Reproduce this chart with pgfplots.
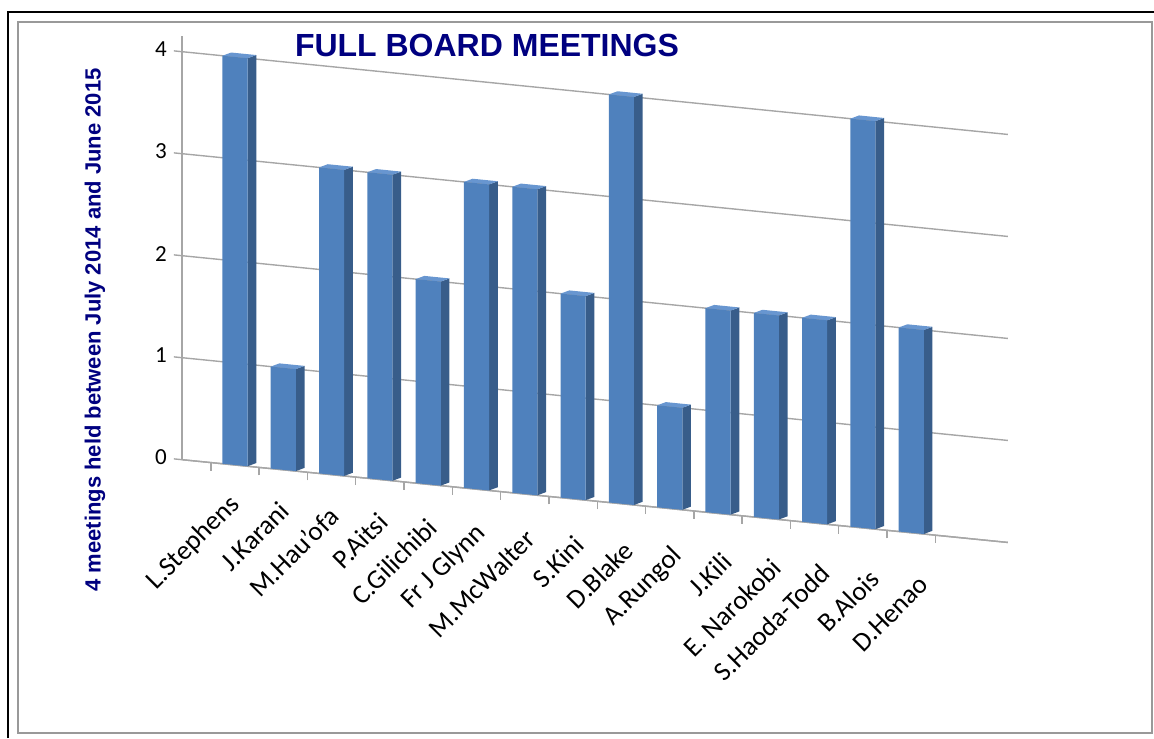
\documentclass[border=0pt]{standalone}
\usepackage{pgfplots}
\pgfplotsset{compat=1.18}
\usepackage{pgfplotstable}
\usepackage{fontspec}
\setmainfont{Carlito}
\newfontfamily\arial{Liberation Sans}
\definecolor{barfront}{RGB}{79,129,189}
\definecolor{barside}{RGB}{56,93,138}
\definecolor{bartop}{RGB}{104,150,208}
\definecolor{navy}{RGB}{0,0,128}
\definecolor{gridc}{RGB}{166,166,166}
\pgfplotstableread{
x y
0 4
1 1
2 3
3 3
4 2
5 3
6 3
7 2
8 4
9 1
10 2
11 2
12 2
13 4
14 2
}\datatable
\begin{document}
\begin{tikzpicture}
\path[use as bounding box] (0,0) rectangle (577pt,369pt);
\draw[line width=1pt] (4pt,0) -- (4pt,363pt) -- (577pt,363pt);
\draw[gray!80, line width=0.8pt] (9pt,2.5pt) rectangle (576pt,358pt);
\node[font=\arial\bfseries\fontsize{16}{19}\selectfont, text=navy] at (243.5pt,346.5pt) {FULL BOARD MEETINGS};
\node[rotate=90, font=\arial\bfseries\fontsize{11}{13}\selectfont, text=navy] at (47.5pt,204pt) {4 meetings held between July 2014 and June 2015};
\begin{axis}[
  at={(117.5pt,136.5pt)}, anchor=origin,
  x={(24.15pt,-2.42pt)}, y={(0pt,51pt)},
  xmin=-1.1, xmax=16, ymin=0, ymax=4.15,
  clip=false,
  axis x line*=bottom, axis y line*=left,
  axis line style={gridc, line width=0.7pt},
  ymajorgrids, grid style={gridc, line width=0.7pt},
  ytick={0,...,4},
  xtick={0,...,14},
  xticklabels={L.Stephens,J.Karani,M.Hau'ofa,P.Aitsi,C.Gilichibi,Fr J Glynn,M.McWalter,S.Kini,D.Blake,A.Rungol,J.Kili,E. Narokobi,S.Haoda-Todd,B.Alois,D.Henao},
  minor xtick={-0.5,0.5,...,14.5},
  major x tick style={draw=none},
  minor x tick style={draw=gridc, line width=0.7pt},
  ytick style={draw=gridc, line width=0.7pt},
  tick align=outside,
  major tick length=4pt, minor tick length=4pt,
  /pgf/number format/assume math mode=true,
  yticklabel style={font=\fontsize{11.5}{13}\selectfont, text=black},
  xticklabel style={rotate=45, anchor=east, xshift=-6pt, yshift={-10pt-0.6pt*\ticknum}, font=\fontsize{13.5}{15}\selectfont, text=black},
]
\pgfplotsinvokeforeach{0,...,14}{
  \pgfplotstablegetelem{#1}{y}\of\datatable
  \let\bv\pgfplotsretval
  \pgfmathsetmacro\xa{#1-0.26}
  \pgfmathsetmacro\xb{#1+0.26}
  \pgfmathsetmacro\xc{#1+0.44}
  \pgfmathsetmacro\xd{#1-0.08}
  \pgfmathsetmacro\vt{\bv+0.04}
  \edef\cmd{%
    \noexpand\addplot[fill=barside, draw=none] coordinates {(\xb,0) (\xc,0.04) (\xc,\vt) (\xb,\bv)};
    \noexpand\addplot[fill=bartop, draw=none] coordinates {(\xa,\bv) (\xb,\bv) (\xc,\vt) (\xd,\vt)};
    \noexpand\addplot[fill=barfront, draw=none] coordinates {(\xa,0) (\xb,0) (\xb,\bv) (\xa,\bv)};
  }%
  \cmd
}
\end{axis}
\end{tikzpicture}
\end{document}
